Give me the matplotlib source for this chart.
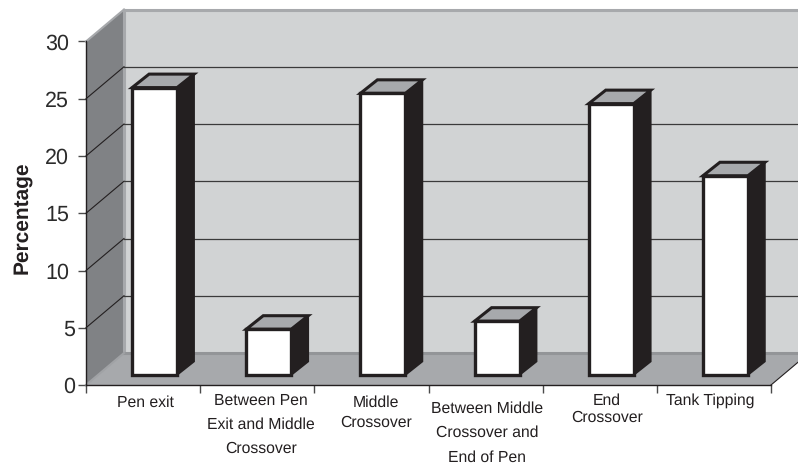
import matplotlib
matplotlib.use("Agg")
import matplotlib.pyplot as plt
from matplotlib.patches import Polygon

plt.rcParams['font.family'] = ['Liberation Sans', 'DejaVu Sans']
plt.rcParams['text.hinting'] = 'none'

categories = ["Pen exit", "Between Pen\nExit and Middle\nCrossover", "Middle\nCrossover",
              "Between Middle\nCrossover and\nEnd of Pen", "End\nCrossover", "Tank Tipping"]
percentages = [25.1, 4.0, 24.6, 4.7, 23.7, 17.4]
y_ticks = [0, 5, 10, 15, 20, 25, 30]

W, H = 798, 465
LEFT, RIGHT, BASE, TOP = 86, 771, 385, 41.5
CAT_PX = (RIGHT - LEFT) / 6
UNIT_PX = (BASE - TOP) / 30

fig = plt.figure(figsize=(W / 100, H / 100), dpi=100, facecolor="white")
ax = fig.add_axes([LEFT / W, 1 - BASE / H, (RIGHT - LEFT) / W, (BASE - TOP) / H])
ax.set_xlim(0, 6)
ax.set_ylim(0, 30)
ax.patch.set_visible(False)


def dx(px):
    return px / CAT_PX


def dy(px):
    return px / UNIT_PX


# Chart-box depth, in data units
DX, DY = dx(38), dy(32)

wall = Polygon([(DX, DY), (DX, 30 + DY), (7, 30 + DY), (7, DY)], fc="#d1d3d4", ec="none", zorder=1, clip_on=False)
side = Polygon([(0, 0), (0, 30), (DX, 30 + DY), (DX, DY)], fc="#808285", ec="none", zorder=1, clip_on=False)
floor = Polygon([(0, 0), (DX, DY), (6 + DX, DY), (6, 0)], fc="#a7a9ac", ec="none", zorder=1, clip_on=False)
ax.add_patch(wall)
ax.add_patch(side)
ax.add_patch(floor)

# Lighter bevels along the box edges
ax.plot([DX, DX], [DY, 30 + DY], color="#a7a9ac", lw=2.2, zorder=2, clip_on=False)
ax.plot([0, DX], [30, 30 + DY], color="#a7a9ac", lw=1.5, zorder=2, clip_on=False)
ax.plot([DX, 7], [30 + DY, 30 + DY], color="#a7a9ac", lw=2.2, zorder=2, clip_on=False)
ax.plot([DX, 7], [DY, DY], color="#939598", lw=2.2, zorder=2, clip_on=False)
ax.plot([0, DX], [0, DY], color="#a0a2a5", lw=1.5, zorder=2, clip_on=False)

# Gridlines run along the side wall and across the back wall
for v in y_ticks[1:-1]:
    ax.plot([0, DX], [v, v + DY], color="#231f20", lw=0.8, zorder=2, clip_on=False)
    ax.plot([DX, 7], [v + DY, v + DY], color="#3a3a3a", lw=0.9, zorder=2, clip_on=False)

# Right edge of the floor
ax.plot([6, 6 + DX], [0, DY], color="#231f20", lw=0.8, zorder=2, clip_on=False)

# 3D columns
BAR_W, SHIFT, LIFT = dx(45), dx(11.5), dy(10)
SX, SY = dx(17), dy(13.5)
EDGE = "#231f20"
centers = [i + 0.5 + SHIFT for i in range(len(percentages))]
ax.bar(centers, percentages, width=BAR_W, bottom=LIFT, fc="white", ec=EDGE, lw=2.4, zorder=5, clip_on=False)
for c, v in zip(centers, percentages):
    l, r = c - BAR_W / 2, c + BAR_W / 2
    t = v + LIFT
    ax.add_patch(Polygon([(l, t), (l + SX, t + SY), (r + SX, t + SY), (r, t)], fc="#a7a9ac", ec=EDGE, lw=2.2,
                         joinstyle="miter", zorder=4, clip_on=False))
    ax.add_patch(Polygon([(r, LIFT), (r + SX, LIFT + SY), (r + SX, t + SY), (r, t)], fc=EDGE, ec=EDGE, lw=1.2,
                         zorder=4, clip_on=False))

# Axes
for name in ("top", "right"):
    ax.spines[name].set_visible(False)
for name in ("left", "bottom"):
    ax.spines[name].set_color("#231f20")
    ax.spines[name].set_linewidth(1.0)
    ax.spines[name].set_zorder(6)
ax.set_yticks(y_ticks)
ax.tick_params(axis="y", labelsize=15.5, length=5.8, width=1.0, color="#4a4a4a", labelcolor="#2b2b2b", pad=2)
# Two-digit labels stand further from the axis than single digits
for tick, v in zip(ax.yaxis.get_major_ticks(), y_ticks):
    if v >= 10:
        tick.set_pad(6.5)
ax.set_xticks(range(7))
ax.set_xticklabels([])
ax.tick_params(axis="x", length=5.8, width=1.0, color="#4a4a4a")

# Category labels sit at slightly different heights and spacings
label_x = [145, 261, 376, 487, 607, 710]
label_top = [395, 393, 395, 401, 393, 393]
label_spacing = [1.0, 1.8, 1.43, 1.84, 1.2, 1.0]
for text, xp, yp, sp in zip(categories, label_x, label_top, label_spacing):
    fig.text(xp / W, 1 - yp / H, text, ha="center", va="top", fontsize=11.3, color="#231f20",
             linespacing=sp, multialignment="center")

fig.text(22 / W, 1 - 218 / H, "Percentage", rotation=90, ha="center", va="center", fontsize=15,
         fontweight="bold", color="#231f20")

fig.savefig("out.png", dpi=100, facecolor="white")
